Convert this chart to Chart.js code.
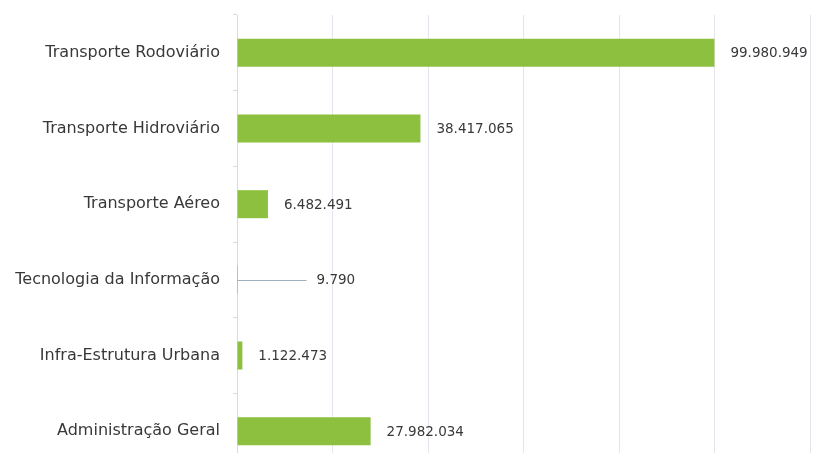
<!DOCTYPE html>
<html>
<head>
<meta charset="utf-8">
<script src="https://cdn.jsdelivr.net/npm/chart.js@4.4.1/dist/chart.umd.min.js"></script>
<style>
    html, body { margin: 0; padding: 0; background: #fff; overflow: hidden; }
    #wrap { width: 820px; height: 453px; overflow: hidden; }
</style>
</head>
<body>
<div id="wrap">
    <div style="width:820px;height:470px;position:relative;">
        <canvas id="myChart"></canvas>
    </div>
</div>
<script>
/* dados do gráfico */
let categorias = [
    'Transporte Rodoviário',
    'Transporte Hidroviário',
    'Transporte Aéreo',
    'Tecnologia da Informação',
    'Infra-Estrutura Urbana',
    'Administração Geral'
];
let valores = [99980949, 38417065, 6482491, 9790, 1122473, 27982034];
let eixoMin = 0;
let eixoMax = 120000000;
let eixoPasso = 20000000;

function formata(n) {
    return String(n).replace(/\B(?=(\d{3})+(?!\d))/g, '.');
}

/* rótulos de valor à direita das barras */
let rotulos = {
    id: 'rotulos',
    afterDatasetsDraw: function (chart) {
        let ctx = chart.ctx;
        let meta = chart.getDatasetMeta(0);
        ctx.save();
        ctx.font = '13.5px "DejaVu Sans"';
        ctx.fillStyle = '#383838';
        ctx.textBaseline = 'middle';
        ctx.textAlign = 'left';
        meta.data.forEach(function (bar, i) {
            let base = bar.base;
            let fim = bar.x;
            if (fim - base < 3) {
                ctx.strokeStyle = '#9fb0bd';
                ctx.lineWidth = 1;
                ctx.beginPath();
                ctx.moveTo(base, Math.round(bar.y) + 0.5);
                ctx.lineTo(base + 69, Math.round(bar.y) + 0.5);
                ctx.stroke();
                ctx.fillText(formata(valores[i]), base + 79, bar.y + 1);
            } else {
                ctx.fillText(formata(valores[i]), fim + 16, bar.y + 1);
            }
        });
        ctx.restore();
    }
};

let ctx = document.getElementById('myChart').getContext('2d');

let myChart = new Chart(ctx, {
    type: 'bar',
    data: {
        labels: categorias,
        datasets: [{
            data: valores,
            backgroundColor: '#8cc03e',
            borderWidth: 0,
            barPercentage: 0.37,
            categoryPercentage: 1
        }]
    },
    options: {
        indexAxis: 'y',
        responsive: true,
        maintainAspectRatio: false,
        animation: false,
        layout: {
            padding: { top: 15, right: 10, left: 0, bottom: 1 }
        },
        scales: {
            x: {
                min: eixoMin,
                max: eixoMax,
                afterFit: function (scale) { scale.height = 0; },
                ticks: { display: false, stepSize: eixoPasso },
                grid: { color: '#e1e6ec', drawTicks: false },
                border: { display: false }
            },
            y: {
                afterFit: function (scale) {
                    scale.width = 237;
                    scale.paddingTop = 0;
                    scale.paddingBottom = 0;
                },
                ticks: {
                    color: '#383838',
                    padding: 13,
                    font: { family: 'DejaVu Sans', size: 16 }
                },
                grid: {
                    drawOnChartArea: false,
                    tickLength: 4,
                    color: '#d3dbe3',
                    offset: true
                },
                border: { display: true, color: '#d3dbe3' }
            }
        },
        plugins: {
            legend: { display: false },
            tooltip: { enabled: false }
        }
    },
    plugins: [rotulos]
});
</script>
</body>
</html>
